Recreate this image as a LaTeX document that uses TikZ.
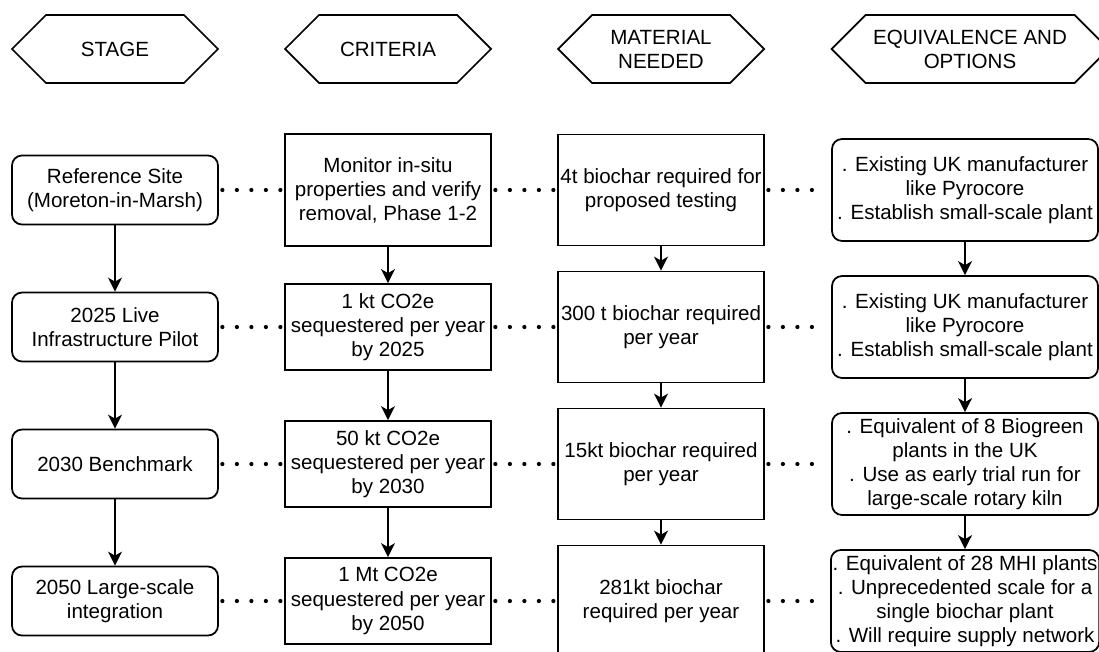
\documentclass[tikz,border=0pt]{standalone}
\usepackage{fontspec}
\setmainfont{Liberation Sans}
\usetikzlibrary{positioning, shapes.symbols, arrows.meta}

\begin{document}
\begin{tikzpicture}[
    node distance=2.74cm and 5.46cm, on grid,
    box/.style={draw, line width=1pt, align=center, inner sep=1pt, font=\fontsize{11.7}{13.7}\selectfont},
    header/.style={box, signal, signal to=west and east, signal pointer angle=90, minimum width=4.12cm, minimum height=1.36cm},
    stagebox/.style={box, rounded corners=0.2cm, minimum width=4.12cm, minimum height=1.38cm},
    critbox/.style={box, minimum width=4.12cm, minimum height=1.72cm},
    matbox/.style={box, minimum width=4.12cm, minimum height=2.22cm},
    optbox/.style={box, rounded corners=0.2cm, minimum width=5.32cm, minimum height=2.04cm},
    link/.style={line width=1pt, -{Stealth[length=0.28cm, width=0.28cm, inset=0.08cm]}},
    dots/.style={line width=2.4pt, line cap=round, dash pattern=on 0pt off 0.29cm, shorten <=0.07cm}
]
\useasboundingbox (-2.30,3.80) rectangle (19.68,-9.22);

% Stages
\node[stagebox] (stage1) {Reference Site\\(Moreton-in-Marsh)};
\node[stagebox, below=of stage1] (stage2) {2025 Live\\Infrastructure Pilot};
\node[stagebox, below=of stage2] (stage3) {2030 Benchmark};
\node[stagebox, below=of stage3] (stage4) {2050 Large-scale\\integration};

% Criteria
\node[critbox, right=of stage1, minimum height=2.24cm] (crit1) {Monitor in-situ\\properties and verify\\removal, Phase 1-2};
\node[critbox, right=of stage2] (crit2) {1 kt CO2e\\sequestered per year\\by 2025};
\node[critbox, right=of stage3] (crit3) {50 kt CO2e\\sequestered per year\\by 2030};
\node[critbox, right=of stage4] (crit4) {1 Mt CO2e\\sequestered per year\\by 2050};

% Material needed
\node[matbox, right=of crit1] (mat1) {4t biochar required for\\proposed testing};
\node[matbox, right=of crit2] (mat2) {300 t biochar required\\per year};
\node[matbox, right=of crit3] (mat3) {15kt biochar required\\per year};
\node[matbox, right=of crit4] (mat4) {281kt biochar\\required per year};

% Equivalence and options
\node[optbox, right=6.08cm of mat1] (opt1) {. Existing UK manufacturer\\like Pyrocore\\. Establish small-scale plant};
\node[optbox, right=6.08cm of mat2] (opt2) {. Existing UK manufacturer\\like Pyrocore\\. Establish small-scale plant};
\node[optbox, right=6.08cm of mat3] (opt3) {. Equivalent of 8 Biogreen\\plants in the UK\\. Use as early trial run for\\large-scale rotary kiln};
\node[optbox, right=6.08cm of mat4] (opt4) {. Equivalent of 28 MHI plants\\. Unprecedented scale for a\\single biochar plant\\. Will require supply network};

% Column headers
\node[header, above=2.82cm of stage1] (h-stage) {STAGE};
\node[header, above=2.82cm of crit1] (h-crit) {CRITERIA};
\node[header, above=2.82cm of mat1] (h-mat) {MATERIAL\\NEEDED};
\node[header, above=2.82cm of opt1, xshift=0.1cm, minimum width=5.54cm] (h-opt) {EQUIVALENCE AND\\OPTIONS};

% Arrows down each column
\draw[link] (stage1) -- (stage2);
\draw[link] (stage2) -- (stage3);
\draw[link] (stage3) -- (stage4);
\draw[link] (crit1) -- (crit2);
\draw[link] (crit2) -- (crit3);
\draw[link] (crit3) -- (crit4);
\draw[link] (mat1) -- (mat2);
\draw[link] (mat2) -- (mat3);
\draw[link] (mat3) -- (mat4);
\draw[link] (opt1) -- (opt2);
\draw[link] (opt2) -- (opt3);
\draw[link] (opt3) -- (opt4);

% Dotted links along each row
\draw[dots] (stage1) -- (crit1);
\draw[dots] (crit1) -- (mat1);
\draw[dots, shorten >=0.3cm] (mat1) -- (opt1);
\draw[dots] (stage2) -- (crit2);
\draw[dots] (crit2) -- (mat2);
\draw[dots, shorten >=0.3cm] (mat2) -- (opt2);
\draw[dots] (stage3) -- (crit3);
\draw[dots] (crit3) -- (mat3);
\draw[dots, shorten >=0.3cm] (mat3) -- (opt3);
\draw[dots] (stage4) -- (crit4);
\draw[dots] (crit4) -- (mat4);
\draw[dots, shorten >=0.3cm] (mat4) -- (opt4);

\end{tikzpicture}
\end{document}
